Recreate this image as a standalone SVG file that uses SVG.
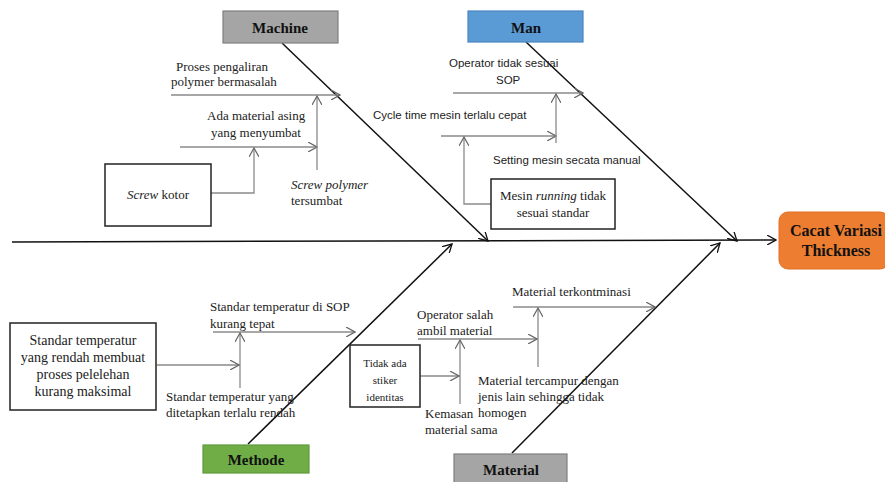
<svg xmlns="http://www.w3.org/2000/svg" width="885" height="482" viewBox="0 0 885 482">
<defs>
<style>
.t{font-family:"Liberation Serif","Times New Roman",serif;font-size:13px;fill:#222}
.s{font-family:"Liberation Sans",Arial,sans-serif;font-size:11.5px;fill:#222}
.h{font-family:"Liberation Serif","Times New Roman",serif;font-size:15px;font-weight:bold;fill:#111;text-anchor:middle}
.bone{stroke:#111;stroke-width:1.5;fill:none}
.sub{stroke:#8a8a8a;stroke-width:1.3;fill:none}
.box{fill:#fff;stroke:#222;stroke-width:1.5}
</style>
<marker id="ab" viewBox="0 0 10 10" refX="9" refY="5" markerWidth="10" markerHeight="10" markerUnits="userSpaceOnUse" orient="auto"><path d="M0,0 L9,5 L0,10" fill="none" stroke="#111" stroke-width="1.3"/></marker>
<marker id="as" viewBox="0 0 10 10" refX="9" refY="5" markerWidth="10" markerHeight="10" markerUnits="userSpaceOnUse" orient="auto"><path d="M0,0 L9,5 L0,10" fill="none" stroke="#666" stroke-width="1.2"/></marker>
</defs>
<rect width="885" height="482" fill="#fff"/>
<g id="connectors">
<line class="bone" x1="12" y1="242" x2="776" y2="240" marker-end="url(#ab)"/>
<line class="bone" x1="282" y1="43" x2="488" y2="241" marker-end="url(#ab)"/>
<line class="bone" x1="526" y1="42" x2="737" y2="241" marker-end="url(#ab)"/>
<line class="bone" x1="248" y1="444" x2="452" y2="244" marker-end="url(#ab)"/>
<line class="bone" x1="512" y1="453" x2="720" y2="243" marker-end="url(#ab)"/>
<line class="sub" x1="171" y1="95" x2="340" y2="95" marker-end="url(#as)"/>
<line class="sub" x1="180" y1="147" x2="317" y2="147" marker-end="url(#as)"/>
<line class="sub" x1="317" y1="170" x2="317" y2="96" marker-end="url(#as)"/>
<polyline class="sub" points="211,193 254,193 254,148" marker-end="url(#as)"/>
<line class="sub" x1="453" y1="93" x2="583" y2="93" marker-end="url(#as)"/>
<line class="sub" x1="441" y1="136" x2="556" y2="136" marker-end="url(#as)"/>
<line class="sub" x1="556" y1="143" x2="556" y2="94" marker-end="url(#as)"/>
<polyline class="sub" points="491,204 464,204 464,137" marker-end="url(#as)"/>
<line class="sub" x1="213" y1="332" x2="355" y2="332" marker-end="url(#as)"/>
<line class="sub" x1="240" y1="388" x2="240" y2="333" marker-end="url(#as)"/>
<line class="sub" x1="157" y1="365" x2="239" y2="365" marker-end="url(#as)"/>
<line class="sub" x1="513" y1="307" x2="655" y2="307" marker-end="url(#as)"/>
<line class="sub" x1="538" y1="367" x2="538" y2="308" marker-end="url(#as)"/>
<line class="sub" x1="418" y1="339" x2="537" y2="339" marker-end="url(#as)"/>
<line class="sub" x1="460" y1="404" x2="460" y2="340" marker-end="url(#as)"/>
<line class="sub" x1="420" y1="376" x2="459" y2="376" marker-end="url(#as)"/>
</g>
<g id="effect">
<rect x="779" y="212" width="110" height="57" rx="9" fill="#ED7D31" stroke="#E07020" stroke-width="1"/>
<text class="h" x="836" y="236" style="font-size:16px">Cacat Variasi</text>
<text class="h" x="836" y="256" style="font-size:16px">Thickness</text>
</g>
<g id="machine">
<rect x="223" y="11" width="115" height="32" fill="#A5A5A5" stroke="#7f7f7f" stroke-width="1.2"/>
<text class="h" x="280" y="33">Machine</text>
</g>
<g id="man">
<rect x="468" y="11" width="115" height="31" fill="#5B9BD5" stroke="#4a86c0" stroke-width="1.2"/>
<text class="h" x="526" y="33">Man</text>
</g>
<g id="methode">
<rect x="203" y="445" width="106" height="28" fill="#70AD47" stroke="#5e9a3a" stroke-width="1.2"/>
<text class="h" x="256" y="465">Methode</text>
</g>
<g id="material">
<rect x="454" y="454" width="113" height="30" fill="#A5A5A5" stroke="#7f7f7f" stroke-width="1.2"/>
<text class="h" x="511" y="475">Material</text>
</g>
<g id="machine-causes">
<text class="t" x="176" y="71">Proses pengaliran</text>
<text class="t" x="171" y="86">polymer bermasalah</text>
<text class="t" x="207" y="120">Ada material asing</text>
<text class="t" x="211" y="137">yang  menyumbat</text>
<text class="t" x="291" y="189"><tspan font-style="italic">Screw polymer</tspan></text>
<text class="t" x="291" y="205">tersumbat</text>
</g>
<g id="screw-kotor">
<rect class="box" x="105" y="164" width="106" height="62"/>
<text class="t" x="158" y="199" text-anchor="middle"><tspan font-style="italic">Screw</tspan> kotor</text>
</g>
<g id="man-causes">
<text class="s" x="449" y="67">Operator  tidak sesuai</text>
<text class="s" x="496" y="84">SOP</text>
<text class="s" x="373" y="119">Cycle time mesin terlalu cepat</text>
<text class="s" x="493" y="164">Setting mesin secata manual</text>
</g>
<g id="mesin-running">
<rect class="box" x="491" y="179" width="124" height="50"/>
<text class="t" x="553" y="200" text-anchor="middle">Mesin <tspan font-style="italic">running</tspan> tidak</text>
<text class="t" x="553" y="217" text-anchor="middle">sesuai standar</text>
</g>
<g id="methode-causes">
<text class="t" x="210" y="311">Standar temperatur di SOP</text>
<text class="t" x="210" y="328">kurang tepat</text>
<text class="t" x="166" y="401">Standar temperatur yang</text>
<text class="t" x="166" y="417">ditetapkan terlalu rendah</text>
</g>
<g id="standar-box">
<rect class="box" x="10" y="323" width="146" height="87"/>
<text class="t" x="83" y="345" text-anchor="middle" style="font-size:14px">Standar temperatur</text>
<text class="t" x="83" y="362" text-anchor="middle" style="font-size:14px">yang rendah membuat</text>
<text class="t" x="83" y="379" text-anchor="middle" style="font-size:14px">proses pelelehan</text>
<text class="t" x="83" y="396" text-anchor="middle" style="font-size:14px">kurang maksimal</text>
</g>
<g id="material-causes">
<text class="t" x="512" y="296">Material terkontminasi</text>
<text class="t" x="417" y="319">Operator salah</text>
<text class="t" x="417" y="335">ambil material</text>
<text class="t" x="478" y="385">Material tercampur dengan</text>
<text class="t" x="478" y="401">jenis lain sehingga tidak</text>
<text class="t" x="478" y="417">homogen</text>
<text class="t" x="425" y="418">Kemasan</text>
<text class="t" x="425" y="434">material sama</text>
</g>
<g id="tidak-ada">
<rect class="box" x="350" y="345" width="70" height="62"/>
<text class="t" x="385" y="367" text-anchor="middle" style="font-size:11px">Tidak ada</text>
<text class="t" x="385" y="384" text-anchor="middle" style="font-size:11px">stiker</text>
<text class="t" x="385" y="401" text-anchor="middle" style="font-size:11px">identitas</text>
</g>
</svg>
